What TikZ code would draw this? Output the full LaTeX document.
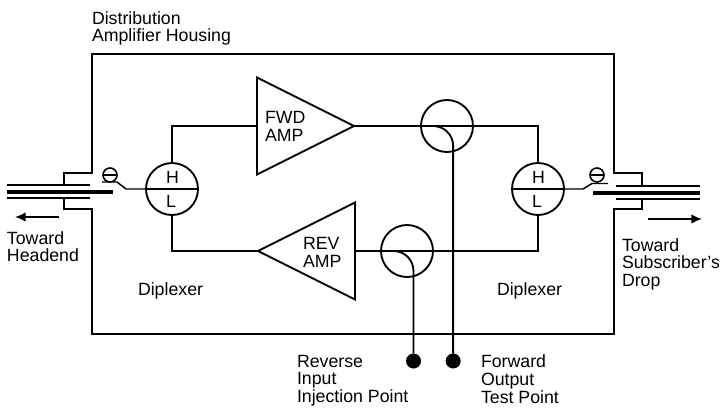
\documentclass[tikz,border=0pt]{standalone}
\usepackage{fontspec}
\setmainfont{Liberation Sans}
\usetikzlibrary{positioning}
\usetikzlibrary{shapes.geometric}
\usetikzlibrary{arrows.meta}
\tikzstyle{diplexer} = [draw, circle, line width=1.4pt, inner sep=0pt, outer sep=0pt, minimum size=39pt]
\tikzstyle{coupler} = [draw, circle, line width=1.4pt, inner sep=0pt, outer sep=0pt, minimum size=39pt]
\tikzstyle{amp} = [draw, isosceles triangle, isosceles triangle stretches, line width=1.4pt, inner sep=0pt, outer sep=0pt, minimum width=72.75pt, minimum height=72.75pt, anchor=apex]
\tikzstyle{testpt} = [fill, circle, inner sep=0pt, outer sep=0pt, minimum size=11.25pt]
\tikzstyle{fuse} = [draw, circle, line width=1.2pt, inner sep=0pt, outer sep=0pt, minimum size=10.5pt]
\tikzstyle{txt} = [inner sep=0pt, outer sep=0pt, anchor=north west, align=left, font=\fontsize{13.3pt}{13.2pt}\selectfont]
\tikzstyle{wire} = [line width=1.4pt]
\tikzstyle{thin} = [line width=1.1pt]
\tikzstyle{cable} = [line width=1.2pt]
\tikzstyle{core} = [line width=3pt]

\begin{document}
\begin{tikzpicture}[x=0.75pt,y=-0.75pt]
    \useasboundingbox (0,0) rectangle (720,407);
    % diplexers and amplifiers
    \node [diplexer] (hlleft) at (172,189) {};
    \node [diplexer, right = 235.5pt of hlleft] (hlright) {};
    \node [amp] (fwdamp) at (354,126) {};
    \node [amp, shape border rotate=180] (revamp) at (258,251) {};
    \node [coupler] (fwdcpl) at (447,126) {};
    \node [coupler] (revcpl) at (407,251) {};
    \node [testpt] (revpt) at (413.5,361) {};
    \node [testpt, right = 18.5pt of revpt] (fwdpt) {};
    \node [fuse] (fuseleft) at (110,175) {};
    \node [fuse] (fuseright) at (597,175) {};

    \coordinate (nwin) at (92,173);
    \coordinate (nwout) at (64,185);
    \coordinate (swin) at (92,209);
    \coordinate (swout) at (64,199);
    \coordinate (newin) at (614,173);
    \coordinate (neout) at (642,185);
    \coordinate (sewin) at (614,209);
    \coordinate (seout) at (642,199);
    \coordinate (topleft) at (92,54);
    \coordinate (topright) at (614,54);
    \coordinate (botleft) at (92,334);
    \coordinate (botright) at (614,334);

    % housing
    \draw [wire] (nwout) |- (nwin) -- (topleft) -- (topright) -- (newin) -| (neout);
    \draw [wire] (swout) |- (swin) -- (botleft) -- (botright) -- (sewin) -| (seout);

    % cables
    \coordinate (cableal) at (7,185);
    \coordinate (cableam) at (90,185);
    \coordinate (cablebl) at (7,198);
    \coordinate (cablebm) at (90,198);
    \coordinate (corel) at (7,192);
    \coordinate (coreml) at (113,192);
    \coordinate (cableav) at (616,186);
    \coordinate (cableaw) at (700,186);
    \coordinate (cablebv) at (616,199);
    \coordinate (cablebw) at (700,199);
    \coordinate (corer) at (593,192.5);
    \coordinate (corew) at (700,192.5);
    \draw [cable] (cableal) -- (cableam);
    \draw [cable] (cablebl) -- (cablebm);
    \draw [core] (corel) -- (coreml);
    \draw [cable] (cableav) -- (cableaw);
    \draw [cable] (cablebv) -- (cablebw);
    \draw [core] (corer) -- (corew);

    % switches
    \coordinate (swla) at (102,182);
    \coordinate (swlb) at (117,182);
    \coordinate (swlc) at (126,189);
    \coordinate (swra) at (608,183.5);
    \coordinate (swrb) at (592,183.5);
    \coordinate (swrc) at (583,189);
    \draw [thin] (fuseleft.west) -- (fuseleft.east);
    \draw [thin] (fuseright.west) -- (fuseright.east);
    \draw [thin] (swla) -- (swlb) -- (swlc) -- (hlleft.west);
    \draw [thin] (swra) -- (swrb) -- (swrc) -- (hlright.east);
    \draw [thin] (hlleft.west) -- (hlleft.east);
    \draw [thin] (hlright.west) -- (hlright.east);

    % signal paths
    \draw [wire] (hlleft.north) |- (fwdamp.lower side);
    \draw [wire] (fwdamp.apex) -| (hlright.north);
    \draw [wire] (hlright.south) |- (revamp.lower side);
    \draw [wire] (revamp.apex) -| (hlleft.south);

    % couplers
    \coordinate (fwdtap) at (431,126);
    \coordinate (revtap) at (391,251);
    \draw [wire, rounded corners=15pt] (fwdtap) -| (fwdpt);
    \draw [wire, rounded corners=15pt] (revtap) -| (revpt);

    % arrows
    \coordinate (arrla) at (59,217);
    \coordinate (arrlb) at (15,217);
    \coordinate (arrra) at (648,219);
    \coordinate (arrrb) at (702,219);
    \draw [thin, -{Latex[length=8pt,width=7pt]}] (arrla) -- (arrlb);
    \draw [thin, -{Latex[length=8pt,width=7pt]}] (arrra) -- (arrrb);

    % labels
    \node [txt] (housing) at (92,11.5) {Distribution\\Amplifier Housing};
    \node [txt] (headend) at (7,231.5) {Toward\\Headend};
    \node [txt] (subscr) at (622,238.5) {Toward\\Subscriber's\\Drop};
    \node [txt] (dipl) at (138,283) {Diplexer};
    \node [txt] (dipr) at (497,283) {Diplexer};
    \node [txt] (revlabel) at (297,355) {Reverse\\Input\\Injection Point};
    \node [txt] (fwdlabel) at (481,355) {Forward\\Output\\Test Point};
    \node [txt] (fwdtext) at (265,111.5) {FWD\\AMP};
    \node [txt] (revtext) at (303,237.5) {REV\\AMP};
    \node [txt] (hl) at (166,171) {H};
    \node [txt] (ll) at (166,195) {L};
    \node [txt] (hr) at (532,171) {H};
    \node [txt] (lr) at (532,195) {L};
\end{tikzpicture}
\end{document}
